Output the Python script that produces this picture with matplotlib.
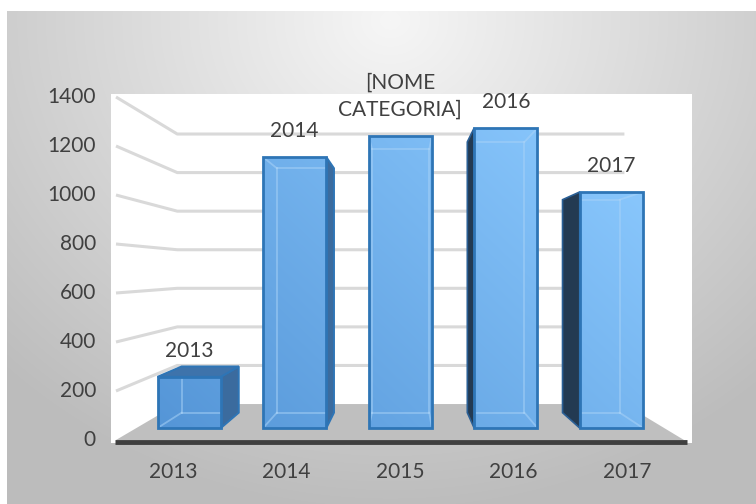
import numpy as np
import matplotlib.pyplot as plt
from matplotlib.patches import Polygon, Rectangle
from matplotlib.colors import to_rgb

# ---- data ----
categories = ['2013', '2014', '2015', '2016', '2017']
values = [225, 1190, 1283, 1318, 1037]
point_labels = ['2013', '2014', '[NOME\nCATEGORIA]', '2016', '2017']
y_ticks = [0, 200, 400, 600, 800, 1000, 1200, 1400]
y_max = 1400

plt.rcParams['font.family'] = ['Lato', 'DejaVu Sans']
TXT = '#404040'
FS = 15

W, H = 756, 504
fig = plt.figure(figsize=(W / 100, H / 100), dpi=100)
ax = fig.add_axes([0, 0, 1, 1])

# ---- background gradient ----
y0b, x0b = 11, 7
yy, xx = np.mgrid[y0b:H, x0b:W]
r = np.hypot((xx - 390) / 560.0, (yy - 20) / 500.0)
g = np.clip(0.965 - 0.23 * r, 0.74, 0.97)
ax.imshow(np.dstack([g, g, g]), extent=(x0b, W, H, y0b), origin='upper',
          aspect='auto', zorder=0, interpolation='bilinear')

# plot area (white)
ax.add_patch(Rectangle((111, 94), 581, 349, facecolor='white', edgecolor='none', zorder=1))

# ---- perspective projection (world -> pixel) ----
n = len(categories)
FX0, FX1 = 116.0, 684.0
CW = (FX1 - FX0) / n
XV, YH, Y0 = 404.0, 271.0, 440.0
K = (Y0 - 97.0) / y_max
A = 0.2128


def P(c, t, v):
    xw = FX0 + c * CW
    s = 1 - A * t
    return (XV + (xw - XV) * s, YH + (Y0 - YH) * s - v * K * s)


# gridlines (left wall + back wall)
for v in y_ticks[1:]:
    pts = [P(0, 0, v), P(0, 1, v), P(n, 1, v)]
    ax.plot([p[0] for p in pts], [p[1] for p in pts], color='#d9d9d9', lw=2.2,
            solid_capstyle='butt', zorder=2)

# floor
floor = [P(0, 0, 0), P(n, 0, 0), P(n, 1, 0), P(0, 1, 0)]
ax.add_patch(Polygon(floor, closed=True, facecolor='#bfbfbf', edgecolor='none', zorder=3))
fy = P(0, 0, 0)[1] + 1.5
ax.plot([FX0 - 1, FX1 + 3], [fy, fy], color='#3f3f3f', lw=3.5, solid_capstyle='butt', zorder=3)

# y tick labels
for v in y_ticks:
    x, y = P(0, 0, v)
    ax.text(x - 20, y, str(v), ha='right', va='center', fontsize=FS, color=TXT, zorder=10)

# x tick labels
for i, c in enumerate(categories):
    x, _ = P(i + 0.5, 0, 0)
    ax.text(x, 472, c, ha='center', va='center', fontsize=FS, color=TXT, zorder=10)

# gradient for the bar fronts
c_lo = np.array(to_rgb('#5394d6'))
c_hi = np.array(to_rgb('#8ccaff'))
gy, gx = np.mgrid[94:443, 111:692]
u = np.clip(0.62 * (gx - 150) / 500.0 + 0.42 * (440 - gy) / 320.0, 0, 1)[..., None]
grad = c_lo * (1 - u) + c_hi * u

EDGE = '#2e75b6'
half = 0.30
t0, t1 = 0.333, 0.76

for i, v in enumerate(values):
    c0, c1 = i + 0.5 - half, i + 0.5 + half
    fbl, fbr, ftr, ftl = P(c0, t0, 0), P(c1, t0, 0), P(c1, t0, v), P(c0, t0, v)
    bbl, bbr, btr, btl = P(c0, t1, 0), P(c1, t1, 0), P(c1, t1, v), P(c0, t1, v)
    xl_w = FX0 + c0 * CW
    xr_w = FX0 + c1 * CW
    z = 5 + i * 0.01

    right_vis = xr_w < XV
    left_vis = xl_w > XV
    top_vis = v * K < (Y0 - YH)

    if right_vis:
        ax.add_patch(Polygon([fbr, bbr, btr, ftr], closed=True, facecolor='#3b6b9e',
                             edgecolor=EDGE, lw=1.4, zorder=z))
    if left_vis:
        ax.add_patch(Polygon([fbl, bbl, btl, ftl], closed=True, facecolor='#233a52',
                             edgecolor='#2a5f95', lw=1.2, zorder=z))
    if top_vis:
        ax.add_patch(Polygon([ftl, ftr, btr, btl], closed=True, facecolor='#3e73ab',
                             edgecolor=EDGE, lw=1.4, zorder=z))

    front = Polygon([fbl, fbr, ftr, ftl], closed=True, facecolor='none',
                    edgecolor='none', zorder=z + 0.001)
    ax.add_patch(front)
    im = ax.imshow(grad, extent=(111, 692, 443, 94), origin='upper', aspect='auto',
                   zorder=z + 0.002, interpolation='bilinear')
    im.set_clip_path(front)

    # hidden (back) edges seen through the translucent front
    hidden = [(bbl, bbr), (btl, btr)]
    if right_vis:
        hidden += [(bbl, btl), (fbl, bbl), (ftl, btl)]
    elif left_vis:
        hidden += [(bbr, btr), (fbr, bbr), (ftr, btr)]
    else:
        hidden += [(bbl, btl), (bbr, btr), (fbl, bbl), (fbr, bbr), (ftl, btl), (ftr, btr)]
    for a, b in hidden:
        ln, = ax.plot([a[0], b[0]], [a[1], b[1]], color='#a8d2f7', alpha=0.55, lw=1.3,
                      zorder=z + 0.003)
        ln.set_clip_path(front)

    ax.add_patch(Polygon([fbl, fbr, ftr, ftl], closed=True, facecolor='none',
                         edgecolor=EDGE, lw=2.0, joinstyle='miter', zorder=z + 0.004))

    # data label
    ax.text(ftl[0] / 2 + ftr[0] / 2, ftl[1] - 16, point_labels[i], ha='center', va='bottom',
            fontsize=FS, color=TXT, linespacing=1.45, zorder=10)

ax.set_xlim(0, W)
ax.set_ylim(H, 0)
ax.axis('off')
fig.savefig('out.png', dpi=100, facecolor='white')
